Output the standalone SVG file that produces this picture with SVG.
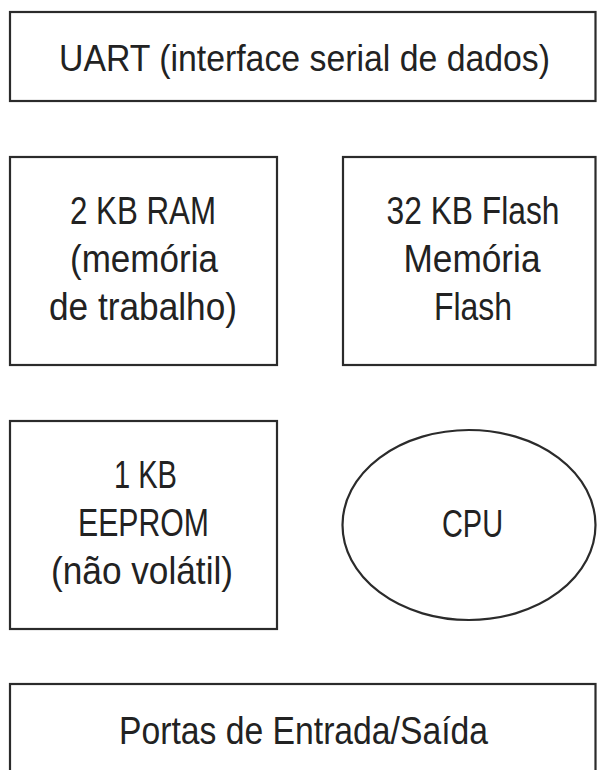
<svg xmlns="http://www.w3.org/2000/svg" width="597" height="770" viewBox="0 0 597 770">
<style>
.box{fill:#fff;stroke:#2b2b2b;stroke-width:2.2}
.t{font-family:"Liberation Sans","Arial",sans-serif;font-size:38px;fill:#222;text-anchor:middle}
.s{font-size:36px}
</style>
<rect width="597" height="770" fill="#fff"/>
<g id="uart">
<rect class="box" x="10" y="12" width="585.5" height="89"/>
<text class="t s" x="304.5" y="71" textLength="491" lengthAdjust="spacingAndGlyphs">UART (interface serial de dados)</text>
</g>
<g id="ram">
<rect class="box" x="10" y="157" width="267" height="208"/>
<text class="t" x="143" y="224" textLength="146" lengthAdjust="spacingAndGlyphs">2 KB RAM</text>
<text class="t" x="144" y="272" textLength="148" lengthAdjust="spacingAndGlyphs">(memória</text>
<text class="t" x="143" y="320" textLength="188" lengthAdjust="spacingAndGlyphs">de trabalho)</text>
</g>
<g id="flash">
<rect class="box" x="343" y="157" width="252.5" height="208"/>
<text class="t" x="473" y="224" textLength="173" lengthAdjust="spacingAndGlyphs">32 KB Flash</text>
<text class="t" x="472" y="272" textLength="137" lengthAdjust="spacingAndGlyphs">Memória</text>
<text class="t" x="473" y="320" textLength="78" lengthAdjust="spacingAndGlyphs">Flash</text>
</g>
<g id="eeprom">
<rect class="box" x="10" y="421" width="267" height="208"/>
<text class="t" x="145.5" y="488" textLength="63" lengthAdjust="spacingAndGlyphs">1 KB</text>
<text class="t" x="143.5" y="536" textLength="131" lengthAdjust="spacingAndGlyphs">EEPROM</text>
<text class="t" x="142" y="584" textLength="182" lengthAdjust="spacingAndGlyphs">(não volátil)</text>
</g>
<g id="cpu">
<ellipse class="box" cx="469" cy="525" rx="126.5" ry="95"/>
<text class="t" x="472.5" y="537" textLength="61" lengthAdjust="spacingAndGlyphs">CPU</text>
</g>
<g id="io">
<rect class="box" x="10" y="684" width="585.5" height="100"/>
<text class="t" x="303.5" y="744" textLength="369" lengthAdjust="spacingAndGlyphs">Portas de Entrada/Saída</text>
</g>
<g id="connectors"></g>
</svg>
